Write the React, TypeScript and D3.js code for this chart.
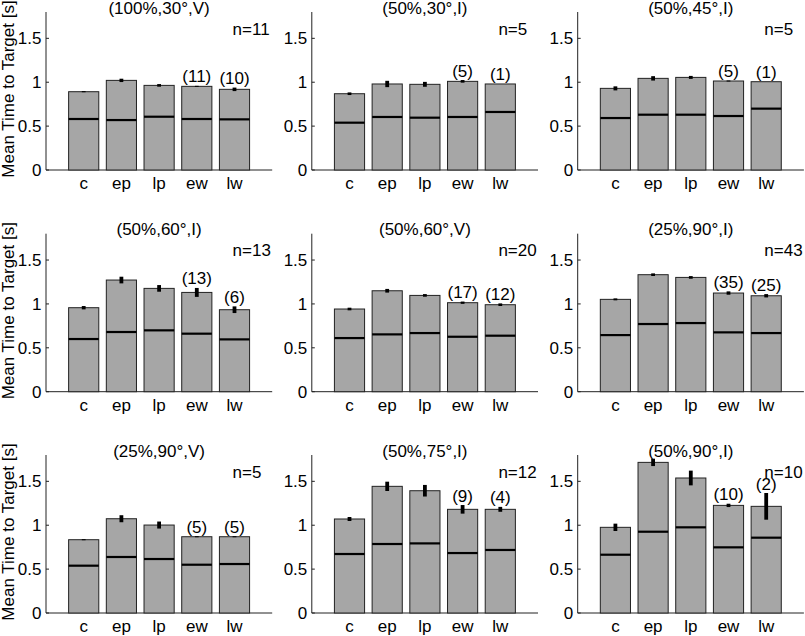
import React from "react";
import * as d3 from "d3";

const categories = ["c", "ep", "lp", "ew", "lw"];
const titles = [
  "(100%,30°,V)", "(50%,30°,I)", "(50%,45°,I)",
  "(50%,60°,I)", "(50%,60°,V)", "(25%,90°,I)",
  "(25%,90°,V)", "(50%,75°,I)", "(50%,90°,I)",
];
const nTotal = [11, 5, 5, 13, 20, 43, 5, 12, 10];
const countEw = [11, 5, 5, 13, 17, 35, 5, 9, 10];
const countLw = [10, 1, 1, 6, 12, 25, 5, 4, 2];

const means = [
  [0.892, 1.021, 0.964, 0.953, 0.919],
  [0.869, 0.980, 0.976, 1.010, 0.980],
  [0.930, 1.044, 1.055, 1.014, 1.006],
  [0.957, 1.272, 1.177, 1.131, 0.934],
  [0.942, 1.150, 1.097, 1.014, 0.991],
  [1.052, 1.333, 1.302, 1.124, 1.093],
  [0.835, 1.074, 1.002, 0.869, 0.869],
  [1.071, 1.443, 1.393, 1.181, 1.181],
  [0.976, 1.716, 1.538, 1.226, 1.215],
];
const errs = [
  [0.006, 0.019, 0.015, 0.006, 0.020],
  [0.015, 0.036, 0.028, 0.015, 0.0],
  [0.023, 0.025, 0.017, 0.006, 0.0],
  [0.019, 0.038, 0.038, 0.051, 0.038],
  [0.015, 0.021, 0.015, 0.013, 0.015],
  [0.011, 0.015, 0.015, 0.019, 0.019],
  [0.006, 0.040, 0.040, 0.006, 0.006],
  [0.023, 0.053, 0.066, 0.049, 0.028],
  [0.042, 0.042, 0.084, 0.019, 0.152],
];
const medians = [
  [0.581, 0.569, 0.607, 0.581, 0.577],
  [0.539, 0.604, 0.596, 0.604, 0.661],
  [0.592, 0.630, 0.630, 0.615, 0.699],
  [0.600, 0.680, 0.699, 0.661, 0.596],
  [0.611, 0.653, 0.668, 0.626, 0.638],
  [0.645, 0.771, 0.782, 0.676, 0.668],
  [0.539, 0.638, 0.615, 0.550, 0.558],
  [0.672, 0.786, 0.793, 0.683, 0.718],
  [0.664, 0.926, 0.976, 0.748, 0.858],
];
const yTicks = [0, 0.5, 1, 1.5];
const yLabel = "Mean Time to Target [s]";

const W = 805;
const H = 636;
const FONT = "'Liberation Sans', Arial, Helvetica, sans-serif";
const FS = 17;
const colLefts = [46, 311.8, 577.7];
const rowTops = [12, 233.7, 455];
const plotW = 226.2;
const plotH = 158;
const barFill = "#a6a6a6";
const ink = "#000";

function fmt(v: number) {
  return d3.format("~g")(v);
}

function Panel({ idx }: { idx: number }) {
  const col = idx % 3;
  const row = Math.floor(idx / 3);
  const left = colLefts[col];
  const top = rowTops[row];
  const bottom = top + plotH;
  const x = d3.scaleLinear().domain([0, 6]).range([left, left + plotW]);
  const y = d3.scaleLinear().domain([0, 1.8]).range([bottom, top]);
  const bw = x(0.8) - x(0);
  const counts: (number | null)[] = [null, null, null, countEw[idx], countLw[idx]];
  return (
    <g>
      <line x1={left} x2={left + plotW} y1={bottom} y2={bottom} stroke="#222" strokeWidth={1} />
      <line x1={left} x2={left} y1={top} y2={bottom} stroke="#222" strokeWidth={1} />
      {yTicks.map((t) => (
        <g key={t}>
          <line x1={left} x2={left + 3} y1={y(t)} y2={y(t)} stroke="#222" />
          <text x={left - 4.5} y={y(t) + 6} textAnchor="end" fontSize={FS} fontFamily={FONT} fill={ink}>
            {fmt(t)}
          </text>
        </g>
      ))}
      {categories.map((c, i) => (
        <text key={c} x={x(i + 1)} y={bottom + 19} textAnchor="middle" fontSize={FS} fontFamily={FONT} fill={ink}>
          {c}
        </text>
      ))}
      {means[idx].map((m, i) => (
        <rect key={"b" + i} x={x(i + 1) - bw / 2} y={y(m)} width={bw} height={y(0) - y(m)}
          fill={barFill} stroke="#222" strokeWidth={1} />
      ))}
      {medians[idx].map((m, i) => (
        <line key={"m" + i} x1={x(i + 1) - bw / 2} x2={x(i + 1) + bw / 2} y1={y(m)} y2={y(m)}
          stroke="#000" strokeWidth={2.2} />
      ))}
      {means[idx].map((m, i) =>
        errs[idx][i] > 0 ? (
          <line key={"e" + i} x1={x(i + 1)} x2={x(i + 1)} y1={y(m - errs[idx][i])} y2={y(m + errs[idx][i])}
            stroke="#000" strokeWidth={3.8} />
        ) : null
      )}
      {counts.map((n, i) =>
        n === null ? null : (
          <text key={"n" + i} x={x(i + 1)} y={y(means[idx][i] + errs[idx][i]) - 3.5} textAnchor="middle"
            fontSize={FS} fontFamily={FONT} fill={ink}>
            {"(" + n + ")"}
          </text>
        )
      )}
      <text x={x(4.95)} y={y(1.6) + 5} fontSize={FS} fontFamily={FONT} fill={ink}>
        {"n=" + nTotal[idx]}
      </text>
      <text x={x(3)} y={top + 1.5} textAnchor="middle" fontSize={FS} fontFamily={FONT} fill={ink}>
        {titles[idx]}
      </text>
      {col === 0 ? (
        <text transform={`translate(${13.5},${(top + bottom) / 2 - 2}) rotate(-90)`} textAnchor="middle"
          fontSize={FS} fontFamily={FONT} fill={ink}>
          {yLabel}
        </text>
      ) : null}
    </g>
  );
}

export default function App() {
  return (
    <div style={{ position: "absolute", left: 0, top: 0 }}>
      <svg width={W} height={H} style={{ display: "block", background: "#fff" }}>
        {titles.map((_, i) => (
          <Panel key={i} idx={i} />
        ))}
      </svg>
    </div>
  );
}
